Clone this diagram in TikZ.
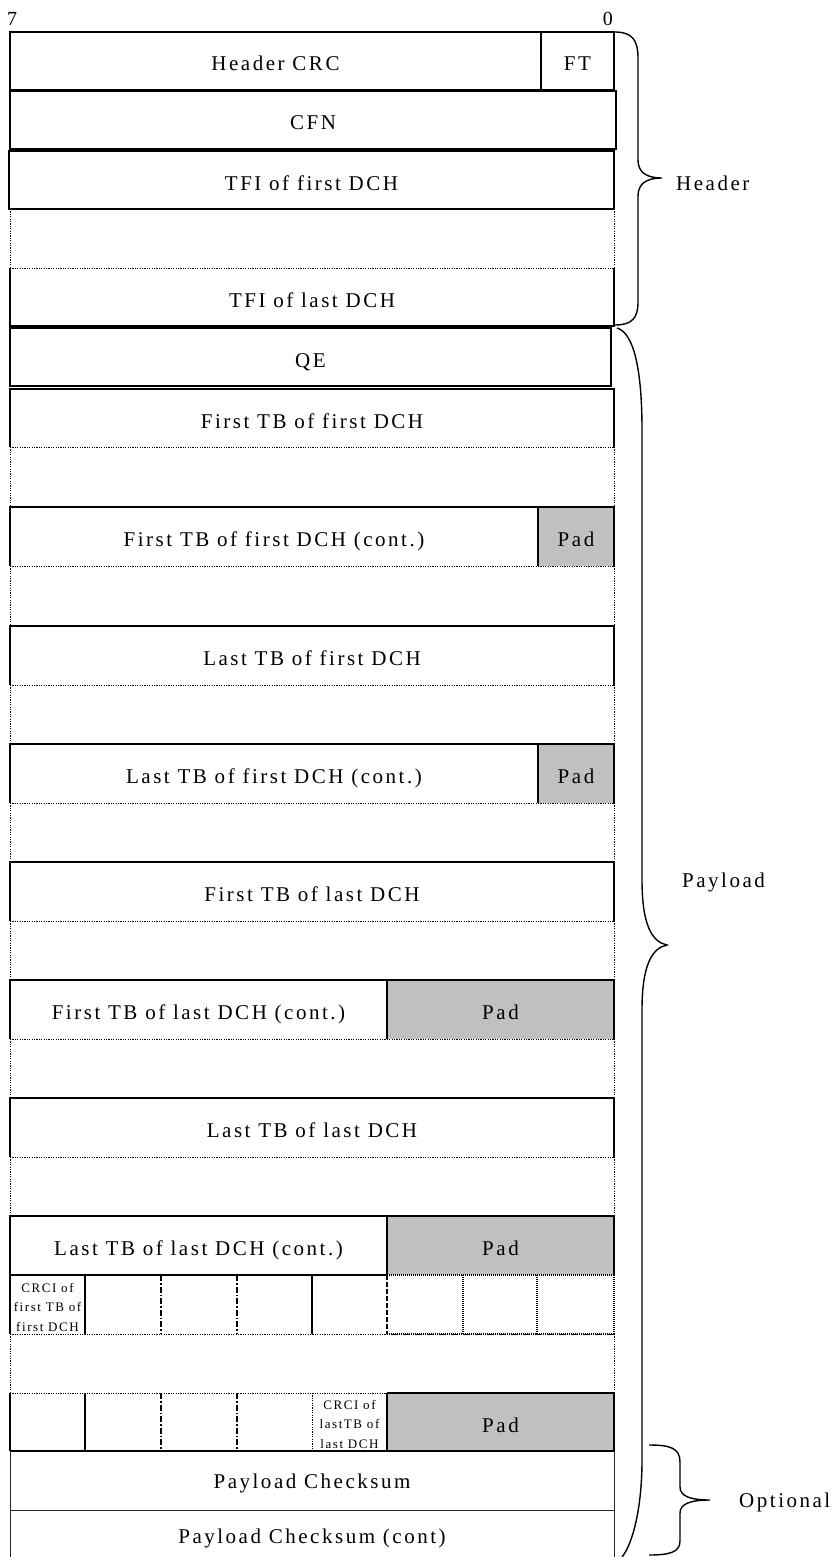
\documentclass[tikz,border=0pt]{standalone}
\usepackage{fontspec}
\setmainfont{Liberation Serif}[LetterSpace=12]
\definecolor{padgray}{RGB}{192,192,192}
\begin{document}
\begin{tikzpicture}[x=1pt,y=-1pt,
  solidln/.style={line width=1.4pt},
  thinln/.style={line width=1pt, black!85},
  dotln/.style={line width=1pt, dash pattern=on 1.2pt off 1.2pt},
  thickdot/.style={line width=2pt, dash pattern=on 1pt off 1pt},
  dashdotln/.style={line width=1.3pt, dash pattern=on 6pt off 2pt on 1.5pt off 2pt},
  dashln/.style={line width=1.3pt, dash pattern=on 5pt off 2pt},
  field/.style={inner sep=0pt, font=\fontsize{21}{25}\selectfont, text height=14pt, text depth=0pt},
  crci/.style={inner sep=0pt, font=\fontsize{13}{19.5}\selectfont, align=center, anchor=north},
  bitlbl/.style={inner sep=0pt, font=\fontsize{20}{22}\selectfont},
  brc/.style={line width=1.4pt}]
\useasboundingbox (0,0) rectangle (834,1557);

% bit labels
\node[bitlbl, anchor=base west] (b7) at (7,26) {7};
\node[bitlbl, anchor=base east] (b0) at (613,26) {0};

% pad fills
\fill[padgray] (538,507) rectangle (614,566);
\fill[padgray] (538,744) rectangle (614,803);
\fill[padgray] (387,980) rectangle (614,1039);
\fill[padgray] (387,1216) rectangle (614,1275);
\fill[padgray] (387,1393) rectangle (614,1451);

% header
\draw[solidln] (10,32) rectangle (614,90);
\draw[solidln] (541,32) -- (541,90);
\draw[solidln] (10,91) rectangle (616,149);
\draw[solidln] (9,151) rectangle (614,209);
\draw[dotln] (10,209) -- (10,268) (614,209) -- (614,268) (10,268) -- (614,268);
\draw[solidln] (10,268) -- (10,326) -- (614,326) -- (614,268);
\draw[solidln] (10,328) rectangle (611,386);

% dotted gap rows
\foreach \t/\b in {447/507,566/626,685/744,803/862,921/980,1039/1098,1157/1216,1334/1393}{
  \draw[dotln] (10,\t) -- (10,\b) (614,\t) -- (614,\b) (10,\t) -- (614,\t) (10,\b) -- (614,\b);
}
% content rows: solid top and sides
\foreach \t/\b in {389/447,507/566,626/685,744/803,862/921,980/1039,1098/1157,1216/1275}{
  \draw[solidln] (10,\b) -- (10,\t) -- (614,\t) -- (614,\b);
}
% pad borders
\draw[solidln] (538,507) -- (538,566);
\draw[solidln] (538,744) -- (538,803);
\draw[solidln] (387,980) -- (387,1039);
\draw[solidln] (387,1216) -- (387,1275);
\draw[solidln] (10,1275) -- (387,1275);
\draw[thickdot] (387,1275) -- (614,1275);

% CRCI row 1
\draw[solidln] (10,1275) -- (10,1334) (85,1275) -- (85,1334) (312,1275) -- (312,1334);
\draw[dashdotln] (161,1275) -- (161,1334) (237,1275) -- (237,1334);
\draw[dashln] (387,1275) -- (387,1334);
\draw[thickdot] (463,1275) -- (463,1334) (537,1275) -- (537,1334) (614,1275) -- (614,1334);
\draw[thickdot] (387,1334) -- (614,1334);

% CRCI row 2
\draw[solidln] (387,1393) -- (614,1393);
\draw[solidln] (10,1393) -- (10,1451) (85,1393) -- (85,1451) (387,1393) -- (387,1451) (614,1393) -- (614,1451);
\draw[dashdotln] (161,1393) -- (161,1451) (237,1393) -- (237,1451);
\draw[dotln] (312,1393) -- (312,1451);
\draw[solidln] (10,1451) -- (614,1451);

% payload checksum
\draw[thinln] (10,1451) -- (10,1557) (614,1451) -- (614,1557) (10,1510) -- (614,1510);

% texts
\node[field] (hcrc) at (275.5,64) {Header CRC};
\node[field] (ft) at (577.5,64) {FT};
\node[field] (cfn) at (313,123) {CFN};
\node[field] (tfi1) at (311.5,183) {TFI of first DCH};
\node[field] (tfin) at (312,300) {TFI of last DCH};
\node[field] (qe) at (310.5,360) {QE};
\node[field] (ftb1) at (312,421) {First TB of first DCH};
\node[field] (ftb1c) at (274,539.5) {First TB of first DCH (cont.)};
\node[field] (pad1) at (576,539.5) {Pad};
\node[field] (ltb1) at (312,658.5) {Last TB of first DCH};
\node[field] (ltb1c) at (274,776.5) {Last TB of first DCH (cont.)};
\node[field] (pad2) at (576,776.5) {Pad};
\node[field] (ftbl) at (312,894.5) {First TB of last DCH};
\node[field] (ftblc) at (198.5,1012.5) {First TB of last DCH (cont.)};
\node[field] (pad3) at (500.5,1012.5) {Pad};
\node[field] (ltbl) at (312,1130.5) {Last TB of last DCH};
\node[field] (ltblc) at (198.5,1248.5) {Last TB of last DCH (cont.)};
\node[field] (pad4) at (500.5,1248.5) {Pad};
\node[crci] (crci1) at (47.5,1283) {CRCI of\\first TB of\\first DCH};
\node[crci] (crci2) at (349.5,1400) {CRCI of\\lastTB of\\last DCH};
\node[field] (pad5) at (500.5,1425) {Pad};
\node[field] (pc) at (312,1481) {Payload Checksum};
\node[field] (pcc) at (312,1536) {Payload Checksum (cont)};

% braces
\draw[brc] (615,32) .. controls (632,32) and (638,40) .. (638,58) -- (638,160)
  .. controls (638,172) and (646,178) .. (662,178)
  .. controls (646,178) and (638,184) .. (638,196) -- (638,302)
  .. controls (638,318) and (632,325) .. (615,325);
\node[field, anchor=west] (hdr) at (676,183) {Header};

\draw[brc] (617,328) .. controls (634,333) and (642,370) .. (642,430) -- (642,880)
  .. controls (642,925) and (652,942) .. (667,945)
  .. controls (652,948) and (642,965) .. (642,1010) -- (642,1460)
  .. controls (642,1510) and (632,1545) .. (622,1557);
\node[field, anchor=west] (pl) at (682,880) {Payload};

\draw[brc] (649,1445) .. controls (670,1445) and (680,1448) .. (680,1462) -- (680,1487)
  .. controls (680,1496) and (690,1500) .. (710,1500)
  .. controls (690,1500) and (680,1504) .. (680,1513) -- (680,1541)
  .. controls (680,1552) and (670,1555) .. (649,1555);
\node[field, anchor=west] (opt) at (739,1500) {Optional};
\end{tikzpicture}
\end{document}
